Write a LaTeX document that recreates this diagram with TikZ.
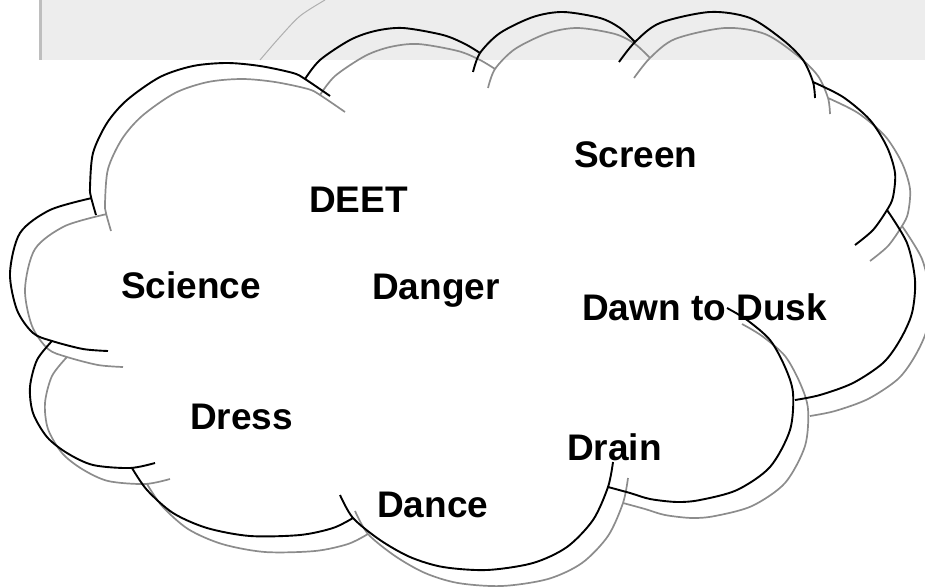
\documentclass[tikz,border=0pt]{standalone}
\usepackage{fontspec}
\setmainfont{Liberation Sans}
\usepackage{xcolor}

\definecolor{bandgray}{RGB}{237,237,237}
\definecolor{edgegray}{RGB}{190,190,190}
\definecolor{shadowgray}{RGB}{140,140,140}
\definecolor{faintgray}{RGB}{175,175,175}

% the cloud outline, arc by arc (pixel units, y down)
\newcommand{\cloudarcs}{
  plot[smooth] coordinates {(108,351) (83,349) (52,341) (33,333) (17,310) (10,273) (20,233) (50,210) (92,198)}
  plot[smooth] coordinates {(96,215) (91,197) (90,187) (93,153) (107,123) (127,100) (160,77) (193,66) (227,63) (260,66) (293,73) (305,79) (330,96)}
  plot[smooth] coordinates {(305,79) (320,60) (350,40) (375,31) (403,28) (443,35) (465,44) (480,53)}
  plot[smooth] coordinates {(473,72) (480,53) (500,33) (533,17) (563,12) (600,18) (620,28) (635,42)}
  plot[smooth] coordinates {(619,62) (635,42) (660,23) (710,12) (750,18) (783,40) (803,60) (813,82) (815,98)}
  plot[smooth] coordinates {(813,82) (843,97) (870,120) (887,147) (895,173) (893,197) (887,210) (873,230) (855,245)}
  plot[smooth] coordinates {(887,210) (907,243) (915,280) (912,313) (900,340) (883,363) (853,383) (820,395) (795,400)}
  plot[smooth] coordinates {(727,308) (747,320) (770,340) (785,367) (793,393) (790,430) (770,467) (737,490) (700,500) (677,502) (650,499) (630,493) (608,487)}
  plot[smooth] coordinates {(613,462) (608,487) (593,520) (567,547) (533,563) (487,570) (443,567) (410,557) (380,540) (353,518) (340,495)}
  plot[smooth] coordinates {(132,468) (147,490) (173,513) (207,528) (250,536) (300,535) (333,528) (353,518)}
  plot[smooth] coordinates {(52,341) (37,360) (30,387) (33,413) (47,437) (67,453) (93,465) (130,468) (155,463)}
}

\begin{document}
\begin{tikzpicture}[x=1pt,y=-1pt,
  cloudline/.style={black,line width=1.9pt},
  shadowline/.style={shadowgray,line width=1.7pt},
  word/.style={font=\bfseries\fontsize{37}{44}\selectfont,inner sep=0pt,anchor=base west}]
\useasboundingbox (0,0) rectangle (925,586);
\clip (0,0) rectangle (925,586);
% textured strip at the top
\fill [bandgray] (39,0) rectangle (925,60);
\fill [edgegray] (39,0) rectangle (42,60);
\draw [faintgray,line width=1pt] plot[smooth] coordinates {(325,0) (300,16) (279,38) (260,60)};
% shadow, then cloud
\draw [shadowline,shift={(15,16)}] \cloudarcs;
\draw [cloudline] \cloudarcs;
% words
\node [word] (screen) at (574,167) {Screen};
\node [word] (deet) at (309,212) {DEET};
\node [word] (science) at (121,298) {Science};
\node [word] (danger) at (372,299) {Danger};
\node [word,anchor=base east] (dawn) at (827,320) {Dawn to Dusk};
\node [word] (dress) at (190,429) {Dress};
\node [word] (drain) at (567,460) {Drain};
\node [word] (dance) at (377,517) {Dance};
\end{tikzpicture}
\end{document}
